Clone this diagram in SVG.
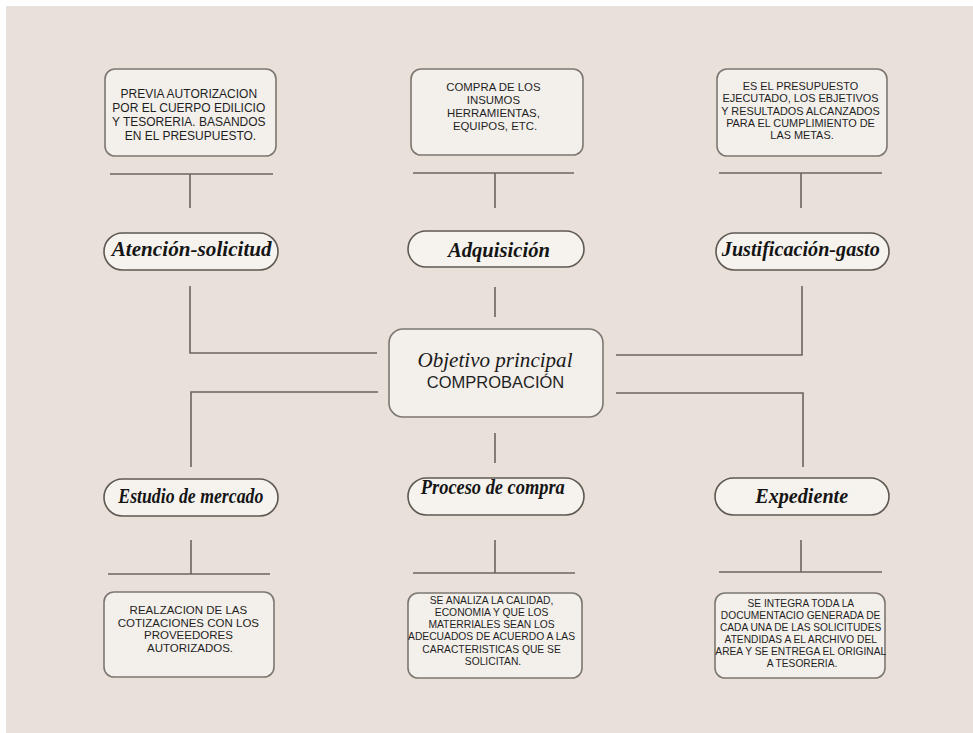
<svg xmlns="http://www.w3.org/2000/svg" width="973" height="733" viewBox="0 0 973 733">
<style>
.box{fill:#F3EFEB;stroke:#7d7771;stroke-width:1.6}
.pill{fill:#F6F3EF;stroke:#5e5852;stroke-width:1.6}
.ln{stroke:#6b645d;stroke-width:1.6;fill:none}
.t{font-family:"Liberation Sans",Arial,sans-serif;fill:#1f1f1f;text-anchor:middle}
.h{font-family:"Liberation Serif","Times New Roman",serif;font-style:italic;font-weight:bold;font-size:21px;fill:#151515;text-anchor:middle}
</style>
<rect x="0" y="0" width="973" height="733" fill="#ffffff"/>
<rect x="6" y="6" width="967" height="727" fill="#E9E1D9"/>

<g id="connectors">
<line class="ln" x1="110" y1="174" x2="273" y2="174"/>
<line class="ln" x1="190" y1="174" x2="190" y2="208"/>
<line class="ln" x1="413" y1="173" x2="574" y2="173"/>
<line class="ln" x1="495" y1="173" x2="495" y2="208"/>
<line class="ln" x1="719" y1="173" x2="882" y2="173"/>
<line class="ln" x1="801" y1="173" x2="801" y2="208"/>
<polyline class="ln" points="190,286 190,353 377,353"/>
<polyline class="ln" points="378,392 191,392 191,467"/>
<polyline class="ln" points="616,355 802,355 802,286"/>
<polyline class="ln" points="616,393 803,393 803,467"/>
<line class="ln" x1="495" y1="287" x2="495" y2="317"/>
<line class="ln" x1="495" y1="433" x2="495" y2="463"/>
<line class="ln" x1="191" y1="540" x2="191" y2="574"/>
<line class="ln" x1="108" y1="574" x2="270" y2="574"/>
<line class="ln" x1="495" y1="540" x2="495" y2="573"/>
<line class="ln" x1="413" y1="573" x2="575" y2="573"/>
<line class="ln" x1="801" y1="540" x2="801" y2="572"/>
<line class="ln" x1="719" y1="572" x2="882" y2="572"/>
</g>

<g id="box-tl">
<rect class="box" x="105" y="69" width="171" height="87" rx="10"/>
<text class="t" font-size="12">
<tspan x="190.5" y="97.5">PREVIA AUTORIZACION</tspan>
<tspan x="190.5" y="111.6">POR EL CUERPO EDILICIO</tspan>
<tspan x="190.5" y="125.7">Y TESORERIA. BASANDOS</tspan>
<tspan x="190.5" y="139.8">EN EL PRESUPUESTO.</tspan>
</text>
</g>
<g id="box-tm">
<rect class="box" x="411" y="69" width="172" height="86" rx="10"/>
<text class="t" font-size="11.4">
<tspan x="495" y="91">COMPRA DE LOS</tspan>
<tspan x="495" y="104">INSUMOS</tspan>
<tspan x="495" y="117">HERRAMIENTAS,</tspan>
<tspan x="495" y="130">EQUIPOS, ETC.</tspan>
</text>
</g>
<g id="box-tr">
<rect class="box" x="717" y="69" width="170" height="87" rx="10"/>
<text class="t" font-size="10.9">
<tspan x="802" y="90">ES EL PRESUPUESTO</tspan>
<tspan x="802" y="102.3">EJECUTADO, LOS EBJETIVOS</tspan>
<tspan x="802" y="114.6">Y RESULTADOS ALCANZADOS</tspan>
<tspan x="802" y="126.9">PARA EL CUMPLIMIENTO DE</tspan>
<tspan x="802" y="139.2">LAS METAS.</tspan>
</text>
</g>

<g id="pill-atencion">
<rect class="pill" x="104" y="233" width="174" height="37" rx="18.5"/>
<text class="h" x="191.7" y="256" textLength="160" lengthAdjust="spacingAndGlyphs">Atención-solicitud</text>
</g>
<g id="pill-adquisicion">
<rect class="pill" x="408" y="231" width="176" height="36" rx="18"/>
<text class="h" x="499" y="257" textLength="102" lengthAdjust="spacingAndGlyphs">Adquisición</text>
</g>
<g id="pill-justificacion">
<rect class="pill" x="716" y="233" width="173" height="37" rx="18.5"/>
<text class="h" x="800.8" y="256" textLength="158" lengthAdjust="spacingAndGlyphs">Justificación-gasto</text>
</g>

<g id="center">
<rect class="box" x="389" y="329" width="214" height="88" rx="14"/>
<text x="495" y="367" font-family="Liberation Serif,'Times New Roman',serif" font-style="italic" font-size="21" fill="#1a1a1a" text-anchor="middle" textLength="155" lengthAdjust="spacingAndGlyphs">Objetivo principal</text>
<text class="t" x="495.5" y="388" font-size="16.5" fill="#111">COMPROBACIÓN</text>
</g>

<g id="pill-estudio">
<rect class="pill" x="104" y="479" width="174" height="37" rx="18.5"/>
<text class="h" x="190.8" y="503" textLength="145" lengthAdjust="spacingAndGlyphs">Estudio de mercado</text>
</g>
<g id="pill-proceso">
<rect class="pill" x="408" y="478" width="176" height="37" rx="18.5"/>
<text class="h" x="492.8" y="494" textLength="144" lengthAdjust="spacingAndGlyphs">Proceso de compra</text>
</g>
<g id="pill-expediente">
<rect class="pill" x="715" y="478" width="174" height="37" rx="18.5"/>
<text class="h" x="801.7" y="503" textLength="93" lengthAdjust="spacingAndGlyphs">Expediente</text>
</g>

<g id="box-bl">
<rect class="box" x="104" y="592" width="170" height="85" rx="10"/>
<text class="t" font-size="11.5">
<tspan x="190" y="614">REALZACION DE LAS</tspan>
<tspan x="190" y="626.6">COTIZACIONES CON LOS</tspan>
<tspan x="190" y="639.2">PROVEEDORES</tspan>
<tspan x="190" y="651.8">AUTORIZADOS.</tspan>
</text>
</g>
<g id="box-bm">
<rect class="box" x="408" y="593" width="174" height="85" rx="10"/>
<text class="t" font-size="10.3">
<tspan x="493" y="603.8">SE ANALIZA LA CALIDAD,</tspan>
<tspan x="493" y="616">ECONOMIA Y QUE LOS</tspan>
<tspan x="493" y="628.2">MATERRIALES SEAN LOS</tspan>
<tspan x="493" y="640.4">ADECUADOS DE ACUERDO A LAS</tspan>
<tspan x="493" y="652.6">CARACTERISTICAS QUE SE</tspan>
<tspan x="493" y="664.8">SOLICITAN.</tspan>
</text>
</g>
<g id="box-br">
<rect class="box" x="715" y="593" width="170" height="85" rx="10"/>
<text class="t" font-size="10.2">
<tspan x="802" y="607">SE INTEGRA TODA LA</tspan>
<tspan x="802" y="619">DOCUMENTACIO GENERADA DE</tspan>
<tspan x="802" y="631">CADA UNA DE LAS SOLICITUDES</tspan>
<tspan x="802" y="643">ATENDIDAS A EL ARCHIVO DEL</tspan>
<tspan x="802" y="655">AREA Y SE ENTREGA EL ORIGINAL</tspan>
<tspan x="802" y="667">A TESORERIA.</tspan>
</text>
</g>
</svg>
